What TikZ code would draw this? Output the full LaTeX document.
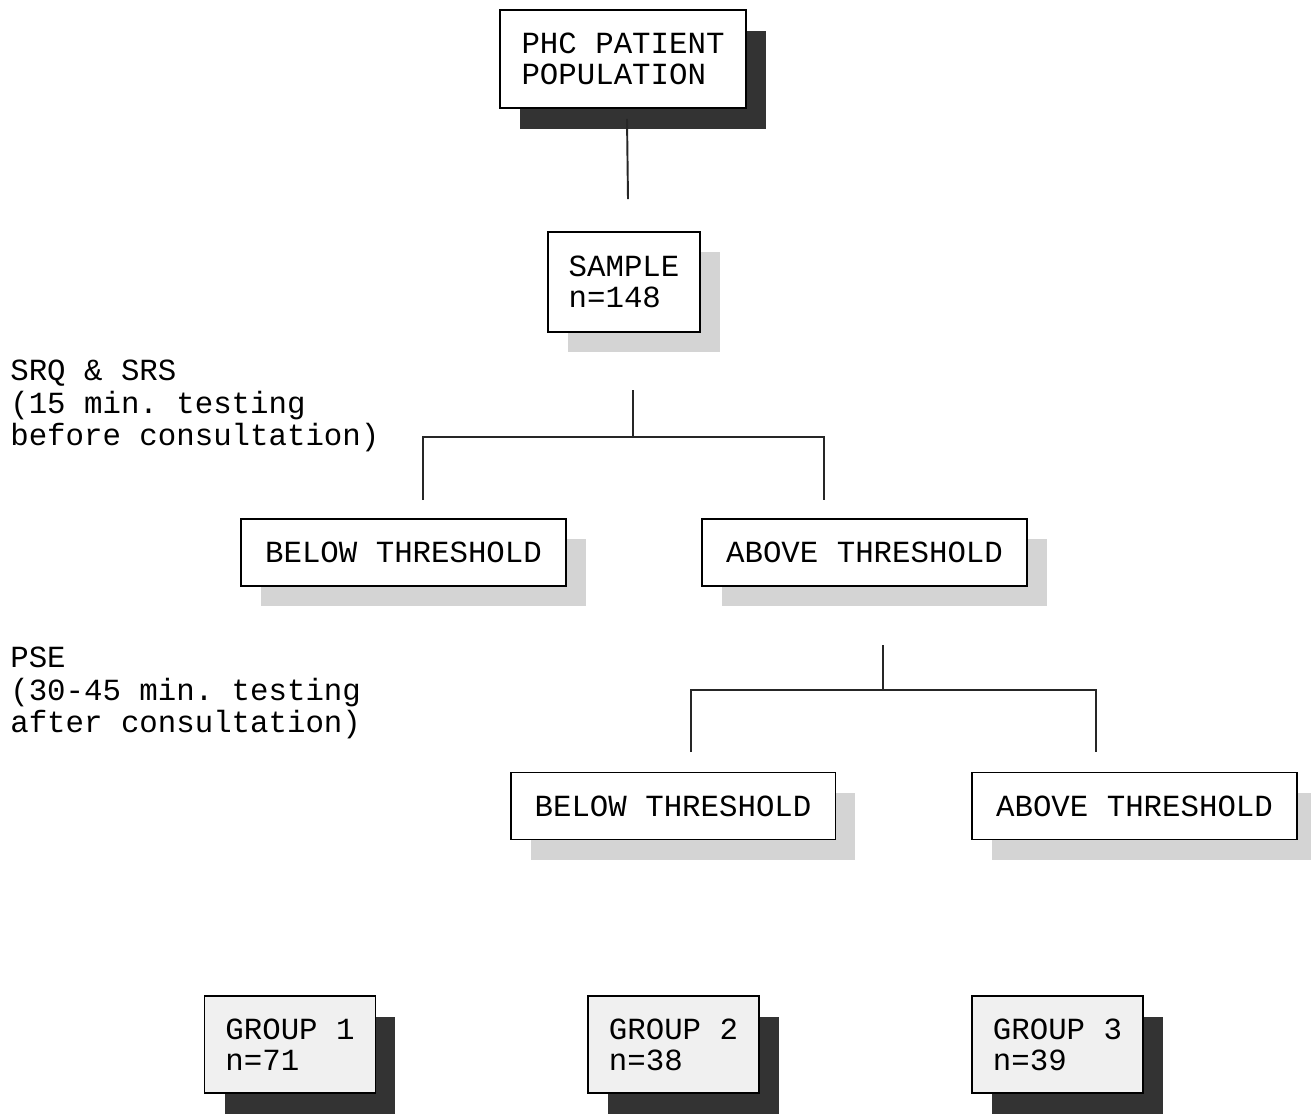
\documentclass[tikz,border=0pt]{standalone}
\usepackage{fontspec}
\setmonofont{Liberation Mono}
\usetikzlibrary{positioning,shadows}

\begin{document}
\begin{tikzpicture}[
	x=0.02cm, y=-0.02cm,
	font=\ttfamily\fontsize{17.5}{17.8}\selectfont,
	box/.style={
		rectangle,
		draw=black,
		line width=1.1pt,
		fill=white,
		align=left,
		inner sep=0pt
	},
	darkshadow/.style={general shadow={fill=black!80, shadow xshift=0.4cm, shadow yshift=-0.42cm}},
	lightshadow/.style={general shadow={fill=black!17, shadow xshift=0.4cm, shadow yshift=-0.4cm}},
	tbox/.style={box, lightshadow, minimum width=6.5cm, minimum height=1.34cm},
	groupbox/.style={box, fill=black!6, darkshadow, minimum width=3.42cm, minimum height=1.94cm},
	note/.style={anchor=north west, align=left, inner sep=0pt, font=\ttfamily\fontsize{17.5}{18.3}\selectfont},
	link/.style={line width=1.1pt, draw=black!85}
	]
	\useasboundingbox (0,0) rectangle (1311,1113);
	
	\node[box, darkshadow, minimum width=4.92cm, minimum height=1.96cm] (phc) at (623,59) {PHC PATIENT\\POPULATION};
	\node[box, lightshadow, minimum width=3.04cm, minimum height=2cm] (sample) at (624,282) {SAMPLE\\n=148};
	
	\node[tbox] (below1) at (403.5,552.5) {BELOW THRESHOLD};
	\node[tbox] (above1) at (864.5,552.5) {ABOVE THRESHOLD};
	\node[tbox] (below2) at (673,806) {BELOW THRESHOLD};
	\node[tbox] (above2) at (1134.5,806) {ABOVE THRESHOLD};
	
	\node[groupbox] (group1) at (290,1044.5) {GROUP 1\\n=71};
	\node[groupbox] (group2) at (673.5,1044.5) {GROUP 2\\n=38};
	\node[groupbox] (group3) at (1057.5,1044.5) {GROUP 3\\n=39};
	
	\node[note] (screen) at (10,360) {SRQ \& SRS\\(15 min. testing\\before consultation)};
	\node[note] (pse) at (10,647) {PSE\\(30-45 min. testing\\after consultation)};
	
	\coordinate (fork1) at (633,437);
	\coordinate (fork1l) at (423,500);
	\coordinate (fork1r) at (824,500);
	\coordinate (fork2) at (883,690);
	\coordinate (fork2l) at (691,752);
	\coordinate (fork2r) at (1096,752);
	
	\draw[link] ([xshift=0.08cm, yshift=-0.2cm]phc.south) -- ([xshift=0.08cm, yshift=0.64cm]sample.north);
	\draw[link] (fork1) -- ++(0,-47);
	\draw[link] (fork1l) -- (fork1l |- fork1) -- (fork1r |- fork1) -- (fork1r);
	\draw[link] (fork2) -- ++(0,-45);
	\draw[link] (fork2l) -- (fork2l |- fork2) -- (fork2r |- fork2) -- (fork2r);
\end{tikzpicture}
\end{document}
